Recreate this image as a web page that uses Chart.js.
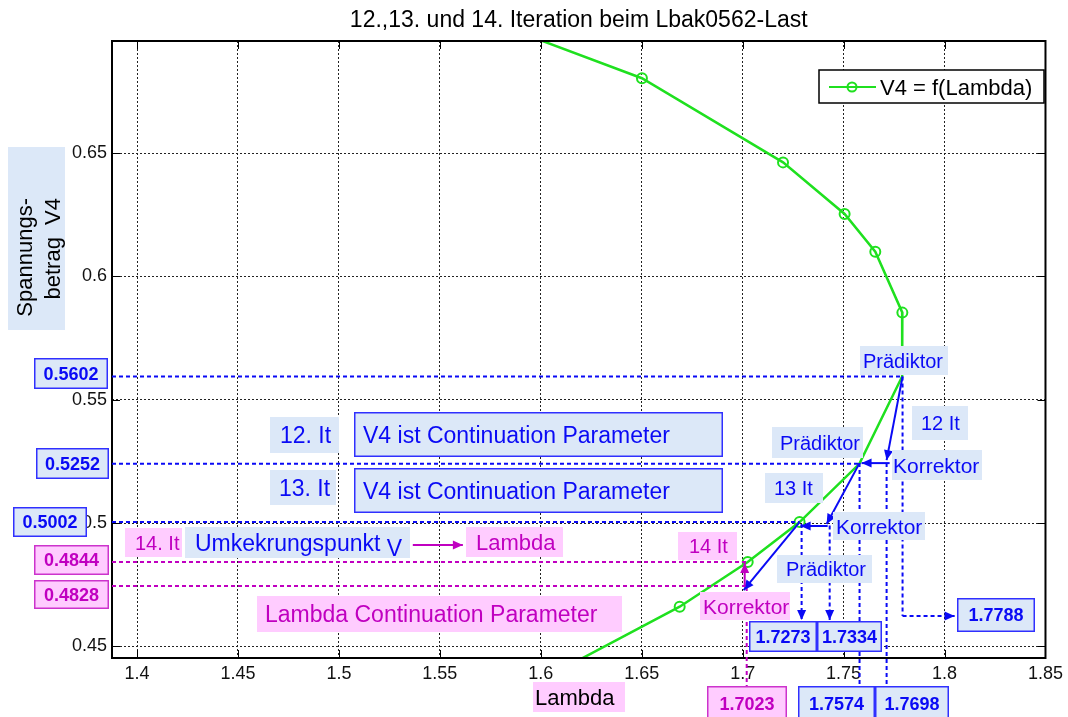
<!DOCTYPE html>
<html>
<head>
<meta charset="utf-8">
<script src="https://cdn.jsdelivr.net/npm/chart.js@4.4.1/dist/chart.umd.min.js"></script>
<style>
body { margin: 0; background: #fff; }
#wrap { width: 1068px; height: 717px; position: relative; }
</style>
</head>
<body>
<div id="wrap"><canvas id="chart"></canvas></div>
<script>
// Kurve V4 = f(Lambda)
const lambdaVals = [1.55, 1.6501, 1.7200, 1.7505, 1.7657, 1.7791, 1.7790, 1.7578, 1.7282, 1.7025, 1.6688, 1.60];
const v4Vals     = [0.711, 0.6803, 0.6462, 0.6253, 0.6100, 0.5853, 0.5594, 0.5240, 0.5004, 0.4842, 0.4661, 0.4363];
const markerOn   = [0, 1, 1, 1, 1, 1, 0, 0, 1, 1, 1, 0];

const xTicks = [1.4, 1.45, 1.5, 1.55, 1.6, 1.65, 1.7, 1.75, 1.8, 1.85];
const xTickLabels = ['1.4', '1.45', '1.5', '1.55', '1.6', '1.65', '1.7', '1.75', '1.8', '1.85'];
const yTicks = [0.45, 0.5, 0.55, 0.6, 0.65];
const yTickLabels = ['0.45', '0.5', '0.55', '0.6', '0.65'];

// waagerechte Hilfslinien: Beschriftung, Hoehe, Ende
const hLabels = ['0.5602', '0.5252', '0.5002', '0.4844', '0.4828'];
const hY      = [0.5594, 0.5240, 0.5004, 0.4842, 0.4745];
const hXEnd   = [1.7790, 1.7578, 1.7282, 1.7025, 1.7012];

// senkrechte Hilfslinien
const vLabels = ['1.7788', '1.7698', '1.7574', '1.7273', '1.7334', '1.7023'];
const vX      = [1.7792, 1.7713, 1.7579, 1.7292, 1.7431, 1.7020];
const vYTop   = [0.5594, 0.5243, 0.5243, 0.4996, 0.4990, 0.4741];
const vYBot   = [0.4623, 0.4339, 0.4339, 0.4607, 0.4607, 0.4339];

// Praediktor/Korrektor Pfeile (von -> nach)
const arrowFromX = [1.7792, 1.7728, 1.7579, 1.7421, 1.7282];
const arrowFromY = [0.5594, 0.5243, 0.5243, 0.4988, 0.5004];
const arrowToX   = [1.7713, 1.7589, 1.7416, 1.7287, 1.7005];
const arrowToY   = [0.5255, 0.5243, 0.4996, 0.4988, 0.4728];
// magenta Pfeile
const magFromX = [1.7010, 1.5366];
const magFromY = [0.4741, 0.4911];
const magToX   = [1.7010, 1.5614];
const magToY   = [0.4838, 0.4911];
// 1.7788 Pfeil nach rechts
const rightArrowX = 1.8050;

const FONT = '"Liberation Sans", Arial, sans-serif';
const BLUE = '#0a0af5', BLUEBORDER = '#3030ff', MAG = '#c000c0', MAGBORDER = '#cc33cc';
const LBLUE = '#dce8f8', PINK = '#ffccff', GREEN = '#1fe01f';

// Lage der Wertekaesten
const hBox = [
  {x: 34, y: 358, w: 74, h: 31, pink: false},
  {x: 36, y: 448, w: 73, h: 31, pink: false},
  {x: 13, y: 507, w: 74, h: 30, pink: false},
  {x: 34, y: 545, w: 75, h: 30, pink: true},
  {x: 34, y: 580, w: 75, h: 29, pink: true}
];
const vBox = [
  {x: 957, y: 598, w: 78, h: 34, pink: false},
  {x: 875, y: 686, w: 74, h: 35, pink: false},
  {x: 798, y: 686, w: 77, h: 35, pink: false},
  {x: 749, y: 621, w: 68, h: 31, pink: false},
  {x: 817, y: 621, w: 65, h: 31, pink: false},
  {x: 707, y: 686, w: 80, h: 35, pink: true}
];

const notes = [
  {t: 'Prädiktor', x: 860, y: 346, w: 88, h: 29, tx: 863, s: 20, pink: false},
  {t: 'Prädiktor', x: 772, y: 427, w: 91, h: 31, tx: 780, s: 20, pink: false},
  {t: 'Prädiktor', x: 777, y: 555, w: 95, h: 28, tx: 786, s: 20, pink: false},
  {t: 'Korrektor', x: 892, y: 450, w: 90, h: 30, tx: 893, s: 21, pink: false},
  {t: 'Korrektor', x: 833, y: 512, w: 92, h: 28, tx: 836, s: 21, pink: false},
  {t: 'Korrektor', x: 700, y: 592, w: 90, h: 28, tx: 703, s: 21, pink: true},
  {t: '12 It', x: 912, y: 406, w: 56, h: 34, tx: 921, s: 20, pink: false},
  {t: '13 It', x: 765, y: 473, w: 58, h: 30, tx: 774, s: 20, pink: false},
  {t: '14 It', x: 678, y: 532, w: 59, h: 28, tx: 689, s: 20, pink: true},
  {t: '12. It', x: 270, y: 417, w: 69, h: 36, tx: 280, s: 23, pink: false},
  {t: '13. It', x: 270, y: 470, w: 66, h: 35, tx: 279, s: 23, pink: false},
  {t: 'V4 ist Continuation Parameter', x: 354, y: 412, w: 369, h: 45, tx: 363, s: 23, pink: false, border: true},
  {t: 'V4 ist Continuation Parameter', x: 354, y: 468, w: 369, h: 45, tx: 363, s: 23, pink: false, border: true},
  {t: '14. It', x: 125, y: 528, w: 57, h: 29, tx: 135, s: 20, pink: true},
  {t: 'Lambda', x: 466, y: 527, w: 97, h: 30, tx: 476, s: 22, pink: true},
  {t: 'Lambda Continuation Parameter', x: 257, y: 596, w: 365, h: 36, tx: 265, s: 23, pink: true}
];

function drawBox(ctx, b, text, size, bold, color, border, tx) {
  ctx.fillStyle = b.pink ? PINK : LBLUE;
  ctx.fillRect(b.x, b.y, b.w, b.h);
  if (border) {
    ctx.strokeStyle = b.pink ? MAGBORDER : BLUEBORDER;
    ctx.lineWidth = 1.5;
    ctx.setLineDash([]);
    ctx.strokeRect(b.x + 0.75, b.y + 0.75, b.w - 1.5, b.h - 1.5);
  }
  ctx.font = (bold ? 'bold ' : '') + size + 'px ' + FONT;
  ctx.fillStyle = color;
  ctx.textBaseline = 'alphabetic';
  const base = b.y + b.h / 2 + size * 0.36;
  if (tx === undefined) {
    ctx.textAlign = 'center';
    ctx.fillText(text, b.x + b.w / 2, base);
  } else {
    ctx.textAlign = 'left';
    ctx.fillText(text, tx, base);
  }
}

function line(ctx, x1, y1, x2, y2, color, dash) {
  ctx.strokeStyle = color;
  ctx.lineWidth = 2;
  ctx.setLineDash(dash || []);
  ctx.beginPath();
  ctx.moveTo(x1, y1);
  ctx.lineTo(x2, y2);
  ctx.stroke();
  ctx.setLineDash([]);
}

function head(ctx, x1, y1, x2, y2, color) {
  const a = Math.atan2(y2 - y1, x2 - x1);
  const len = 10, wd = 4.5;
  ctx.fillStyle = color;
  ctx.beginPath();
  ctx.moveTo(x2, y2);
  ctx.lineTo(x2 - len * Math.cos(a) + wd * Math.sin(a), y2 - len * Math.sin(a) - wd * Math.cos(a));
  ctx.lineTo(x2 - len * Math.cos(a) - wd * Math.sin(a), y2 - len * Math.sin(a) + wd * Math.cos(a));
  ctx.closePath();
  ctx.fill();
}

const annot = {
  id: 'annot',
  afterDatasetsDraw(chart) {
    const ctx = chart.ctx, a = chart.chartArea;
    const sx = chart.scales.x, sy = chart.scales.y;
    ctx.save();
    // Achsenrahmen und Teilstriche
    ctx.strokeStyle = '#000';
    ctx.lineWidth = 1;
    xTicks.forEach(v => {
      const p = Math.round(sx.getPixelForValue(v)) + 0.5;
      ctx.beginPath();
      ctx.moveTo(p, a.bottom); ctx.lineTo(p, a.bottom - 8);
      ctx.moveTo(p, a.top); ctx.lineTo(p, a.top + 8);
      ctx.stroke();
    });
    yTicks.forEach(v => {
      const p = Math.round(sy.getPixelForValue(v)) + 0.5;
      ctx.beginPath();
      ctx.moveTo(a.left, p); ctx.lineTo(a.left + 8, p);
      ctx.moveTo(a.right, p); ctx.lineTo(a.right - 8, p);
      ctx.stroke();
    });
    ctx.lineWidth = 2;
    ctx.strokeRect(a.left, a.top, a.right - a.left, a.bottom - a.top);
    ctx.restore();
  },
  afterDraw(chart) {
    const ctx = chart.ctx, a = chart.chartArea;
    const sx = chart.scales.x, sy = chart.scales.y;
    const X = v => sx.getPixelForValue(v), Y = v => sy.getPixelForValue(v);
    const dash = [4, 3];
    ctx.save();

    // waagerechte Hilfslinien
    hY.forEach((v, i) => {
      line(ctx, a.left, Y(v), X(hXEnd[i]), Y(v), i < 3 ? BLUE : MAG, dash);
    });
    // senkrechte Hilfslinien
    vX.forEach((v, i) => {
      const col = i === 5 ? MAG : BLUE;
      line(ctx, X(v), Y(vYTop[i]), X(v), Y(vYBot[i]), col, dash);
      if (i === 3 || i === 4) head(ctx, X(v), Y(vYTop[i]), X(v), Y(vYBot[i]), col);
    });
    line(ctx, X(vX[0]), Y(vYBot[0]), X(rightArrowX), Y(vYBot[0]), BLUE, dash);
    head(ctx, X(vX[0]), Y(vYBot[0]), X(rightArrowX), Y(vYBot[0]), BLUE);

    // Praediktor / Korrektor Pfeile
    arrowFromX.forEach((v, i) => {
      const x1 = X(v), y1 = Y(arrowFromY[i]), x2 = X(arrowToX[i]), y2 = Y(arrowToY[i]);
      line(ctx, x1, y1, x2, y2, BLUE);
      head(ctx, x1, y1, x2, y2, BLUE);
    });
    magFromX.forEach((v, i) => {
      const x1 = X(v), y1 = Y(magFromY[i]), x2 = X(magToX[i]), y2 = Y(magToY[i]);
      line(ctx, x1, y1, x2, y2, MAG);
      head(ctx, x1, y1, x2, y2, MAG);
    });

    // Wertekaesten
    hLabels.forEach((t, i) => drawBox(ctx, hBox[i], t, 18, true, hBox[i].pink ? MAG : BLUE, true));
    vLabels.forEach((t, i) => drawBox(ctx, vBox[i], t, 18, true, vBox[i].pink ? MAG : BLUE, true));

    // Textkaesten
    notes.forEach(n => drawBox(ctx, n, n.t, n.s, false, n.pink ? MAG : BLUE, n.border, n.tx));

    // Umkehrungspunkt V (V etwas tiefer)
    const ub = {x: 185, y: 527, w: 225, h: 31, pink: false};
    drawBox(ctx, ub, 'Umkekrungspunkt', 23, false, BLUE, false, 195);
    ctx.font = '23px ' + FONT;
    const uw = ctx.measureText('Umkekrungspunkt ').width;
    ctx.fillText('V', 195 + uw, ub.y + ub.h / 2 + 23 * 0.36 + 5);

    // Legende
    const ds = chart.data.datasets[0];
    ctx.fillStyle = '#fff';
    ctx.fillRect(819, 70, 225, 33);
    ctx.strokeStyle = '#000';
    ctx.lineWidth = 1.5;
    ctx.strokeRect(819, 70, 225, 33);
    line(ctx, 829, 87, 876, 87, GREEN);
    ctx.strokeStyle = GREEN;
    ctx.lineWidth = 2;
    ctx.beginPath();
    ctx.arc(852, 87, 4.5, 0, Math.PI * 2);
    ctx.stroke();
    ctx.fillStyle = '#000';
    ctx.font = '22px ' + FONT;
    ctx.textAlign = 'left';
    ctx.textBaseline = 'alphabetic';
    ctx.fillText(ds.label, 880, 95);

    // Titel
    ctx.font = '23px ' + FONT;
    ctx.textAlign = 'center';
    ctx.fillStyle = '#000';
    ctx.fillText('12.,13. und 14. Iteration beim Lbak0562-Last', (a.left + a.right) / 2, 27);

    // x-Achsentitel
    drawBox(ctx, {x: 533, y: 682, w: 92, h: 30, pink: true}, 'Lambda', 22, false, '#000', false, 535);

    // y-Achsentitel
    ctx.fillStyle = LBLUE;
    ctx.fillRect(8, 147, 57, 183);
    ctx.fillStyle = '#000';
    ctx.font = '22px ' + FONT;
    ctx.textAlign = 'right';
    ctx.save();
    ctx.translate(32, 198);
    ctx.rotate(-Math.PI / 2);
    ctx.fillText('Spannungs-', 0, 0);
    ctx.restore();
    ctx.save();
    ctx.translate(60, 198);
    ctx.rotate(-Math.PI / 2);
    ctx.fillText('betrag  V4', 0, 0);
    ctx.restore();

    ctx.restore();
  }
};

const points = lambdaVals.map((x, i) => ({x: x, y: v4Vals[i]}));

new Chart(document.getElementById('chart'), {
  type: 'scatter',
  data: {
    datasets: [{
      label: 'V4 = f(Lambda)',
      data: points,
      showLine: true,
      borderColor: GREEN,
      borderWidth: 2.5,
      backgroundColor: 'rgba(0,0,0,0)',
      pointBorderColor: GREEN,
      pointBorderWidth: 2,
      pointRadius: markerOn.map(m => m ? 5 : 0),
      pointHoverRadius: 0,
      tension: 0
    }]
  },
  options: {
    responsive: true,
    maintainAspectRatio: false,
    devicePixelRatio: 1,
    animation: false,
    layout: {padding: {left: 0, top: 41, right: 21, bottom: 0}},
    plugins: {legend: {display: false}, title: {display: false}, tooltip: {enabled: false}},
    scales: {
      x: {
        type: 'linear',
        min: 1.3876,
        max: 1.85,
        afterFit(s) { s.height = 59; },
        afterBuildTicks(s) { s.ticks = xTicks.map(v => ({value: v})); },
        ticks: {
          autoSkip: false, maxRotation: 0, padding: 5,
          color: '#111', font: {family: FONT, size: 18},
          callback: (v, i) => xTickLabels[i]
        },
        grid: {color: '#222', lineWidth: 1, drawTicks: false},
        border: {display: false, dash: [2, 2]}
      },
      y: {
        type: 'linear',
        min: 0.4453,
        max: 0.6954,
        afterFit(s) { s.width = 112; },
        afterBuildTicks(s) { s.ticks = yTicks.map(v => ({value: v})); },
        ticks: {
          autoSkip: false, padding: 5,
          color: '#111', font: {family: FONT, size: 18},
          callback: (v, i) => yTickLabels[i]
        },
        grid: {color: '#222', lineWidth: 1, drawTicks: false},
        border: {display: false, dash: [2, 2]}
      }
    }
  },
  plugins: [annot]
});
</script>
</body>
</html>
